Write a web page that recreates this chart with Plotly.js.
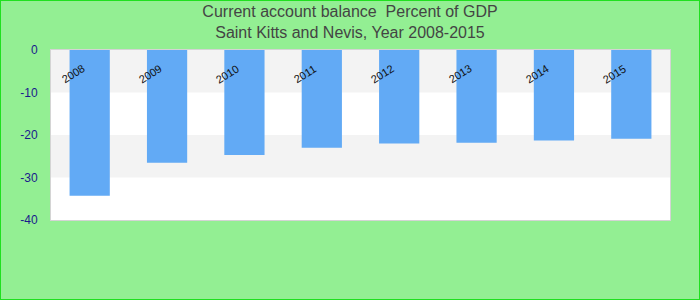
<!DOCTYPE html>
<html><head><meta charset="utf-8">
<script src="https://cdn.plot.ly/plotly-3.0.1.min.js"></script>
<style>
html,body{margin:0;padding:0;background:#93ef93;}
#chart{width:698px;height:298px;border:1px solid #1fe01f;}
</style></head>
<body><div id="chart"></div>
<script>
const years = ["2008","2009","2010","2011","2012","2013","2014","2015"];
const balance = [-34.3, -26.5, -24.7, -23.0, -22.0, -21.8, -21.3, -20.9];
const yTicks = [0, -10, -20, -30, -40];
const bands = [[-10, 0], [-30, -20]];

const shapes = bands.map(b => ({
  type: 'rect', xref: 'paper', yref: 'y', x0: 0, x1: 1, y0: b[0], y1: b[1],
  fillcolor: '#f3f3f3', line: {width: 0}, layer: 'below'
}));

const annotations = years.map((y, i) => ({
  x: i, y: -5.6, xref: 'x', yref: 'y', text: y, showarrow: false,
  textangle: -32, xshift: -17,
  font: {family: 'Liberation Sans, Arial, sans-serif', size: 11, color: '#111'}
}));

Plotly.newPlot('chart', [{
  type: 'bar', x: years, y: balance,
  marker: {color: '#62aaf5'}, width: 0.52, hoverinfo: 'none'
}], {
  width: 698, height: 298,
  margin: {l: 50, r: 29, t: 49, b: 79},
  paper_bgcolor: '#93ef93', plot_bgcolor: '#ffffff',
  title: {
    text: 'Current account balance  Percent of GDP<br>Saint Kitts and Nevis, Year 2008-2015',
    font: {family: 'Liberation Sans, Arial, sans-serif', size: 16, color: '#444'},
    x: 0.5, xanchor: 'center', y: 0.945, yanchor: 'top', yref: 'container'
  },
  xaxis: {
    type: 'category', range: [-0.5, years.length - 0.5],
    showticklabels: false, showgrid: false, zeroline: false,
    showline: true, mirror: true, linecolor: '#d4d4d4', linewidth: 1
  },
  yaxis: {
    range: [-40, 0], tickvals: yTicks, ticktext: yTicks.map(String),
    showgrid: false, zeroline: false,
    showline: true, mirror: true, linecolor: '#d4d4d4', linewidth: 1,
    ticks: '', ticklabelstandoff: 10,
    tickfont: {family: 'Liberation Sans, Arial, sans-serif', size: 12, color: '#1a1a8c'}
  },
  shapes: shapes,
  annotations: annotations,
  showlegend: false,
  bargap: 0.48
}, {displayModeBar: false, staticPlot: true});
</script></body></html>
